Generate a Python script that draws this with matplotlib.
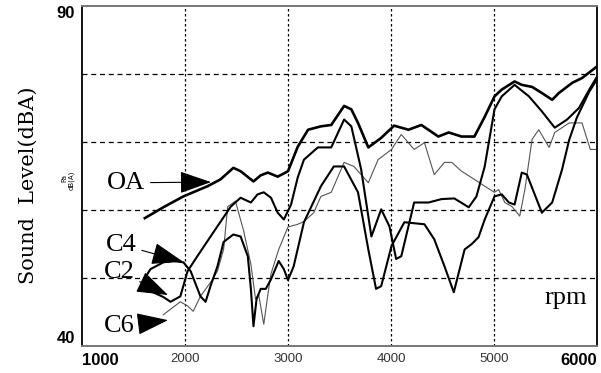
import matplotlib
matplotlib.use("Agg")
from matplotlib import pyplot as plt

# engine speed sweep, overall level and order components
oa_rpm = [1610, 1790, 1985, 2220, 2345, 2470, 2540, 2665, 2735, 2805, 2900, 3000, 3095, 3195, 3320,
          3420, 3545, 3615, 3680, 3780, 3905, 4030, 4170, 4295, 4460, 4560, 4685, 4810, 4910, 5005,
          5075, 5200, 5270, 5370, 5465, 5565, 5630, 5760, 5855, 6000]
oa_db = [58.8, 60.4, 62.0, 63.5, 64.5, 66.2, 65.7, 64.2, 65.1, 65.5, 64.9, 65.7, 69.3, 71.8, 72.3,
         72.5, 75.3, 74.8, 72.8, 69.2, 70.6, 72.4, 71.8, 72.5, 70.8, 71.4, 70.8, 70.8, 73.7, 76.7,
         77.7, 78.9, 78.4, 78.1, 77.2, 76.2, 77.2, 78.7, 79.4, 81.1]

c2_rpm = [1595, 1690, 1790, 1860, 1955, 2025, 2120, 2275, 2445, 2540, 2640, 2705, 2765, 2835, 2900,
          2960, 3030, 3095, 3155, 3290, 3420, 3545, 3615, 3710, 3810, 3905, 3985, 4050, 4100, 4225,
          4365, 4490, 4615, 4755, 4830, 4910, 5005, 5075, 5200, 5340, 5465, 5590, 5710, 5825, 5925, 6000]
c2_db = [48.8, 47.9, 47.2, 46.5, 47.3, 51.0, 53.2, 56.7, 60.5, 61.8, 61.1, 62.3, 62.6, 61.8, 59.6,
         58.6, 60.8, 64.8, 67.4, 69.2, 69.2, 73.3, 72.3, 66.0, 56.1, 60.1, 57.6, 52.8, 53.2, 61.1,
         61.1, 61.6, 61.7, 60.4, 62.0, 66.4, 74.8, 76.7, 78.4, 76.7, 74.5, 72.1, 73.3, 75.0, 77.7, 79.6]

c4_rpm = [1615, 1665, 1790, 1885, 1985, 2055, 2150, 2200, 2250, 2315, 2375, 2470, 2540, 2610, 2640,
          2665, 2695, 2735, 2785, 2835, 2910, 2960, 3000, 3055, 3155, 3320, 3445, 3545, 3680, 3780,
          3855, 3905, 4005, 4130, 4325, 4420, 4520, 4610, 4715, 4785, 4850, 4910, 5005, 5075, 5145,
          5200, 5270, 5320, 5465, 5565, 5660, 5730, 5805, 5925, 6000]
c4_db = [50.1, 51.3, 52.3, 52.5, 52.3, 51.0, 47.3, 46.5, 48.9, 51.7, 55.3, 56.4, 56.1, 53.2, 48.4,
         42.9, 46.9, 48.4, 48.4, 49.8, 52.5, 51.3, 49.7, 51.7, 58.2, 63.5, 66.4, 66.4, 62.6, 54.2,
         48.4, 48.8, 54.7, 58.2, 57.9, 55.7, 51.7, 47.9, 54.2, 55.0, 56.0, 58.6, 62.0, 62.3, 61.1,
         60.8, 65.5, 65.2, 59.6, 61.1, 65.9, 70.3, 73.6, 77.4, 79.2]

c6_rpm = [1790, 1885, 1955, 2025, 2080, 2150, 2250, 2315, 2375, 2415, 2490, 2570, 2640, 2685, 2715,
          2765, 2805, 2835, 2910, 3000, 3095, 3155, 3250, 3320, 3420, 3545, 3640, 3780, 3875, 4005,
          4100, 4225, 4325, 4420, 4520, 4590, 4685, 4810, 4910, 5005, 5045, 5105, 5175, 5250, 5300,
          5370, 5435, 5535, 5590, 5730, 5855, 5935, 6000]
c6_db = [44.6, 45.7, 46.5, 45.9, 45.1, 47.3, 49.4, 51.0, 54.2, 60.5, 61.3, 56.9, 52.0, 46.9, 47.6,
         43.2, 47.6, 50.6, 54.2, 57.5, 57.9, 58.3, 59.6, 62.0, 62.6, 67.0, 66.4, 64.0, 67.4, 68.9,
         71.1, 68.9, 69.9, 65.2, 67.0, 67.0, 65.7, 64.5, 63.5, 62.6, 63.0, 61.1, 60.5, 59.1, 63.0,
         70.4, 71.8, 69.2, 71.4, 72.8, 72.8, 68.9, 68.9]

x_ticks = [1000, 2000, 3000, 4000, 5000, 6000]
y_ticks = [40, 50, 60, 70, 80, 90]

fig = plt.figure(figsize=(6.01, 3.73), dpi=100)
ax = fig.add_axes([0.1364, 0.0724, 0.8569, 0.9116])

ax.plot(c6_rpm, c6_db, color="#555555", lw=0.8)
ax.plot(c4_rpm, c4_db, color="black", lw=1.5)
ax.plot(c2_rpm, c2_db, color="black", lw=1.5)
ax.plot(oa_rpm, oa_db, color="black", lw=1.9)

ax.set_xlim(1000, 6000)
ax.set_ylim(40, 90)

# dashed grid, no tick marks
for v in x_ticks[1:-1]:
    ax.axvline(v, color="black", lw=0.9, ls=(0, (2, 2)), zorder=0)
for h in y_ticks[1:-1]:
    ax.axhline(h, color="black", lw=0.9, ls=(0, (4, 3)), zorder=0)

ax.set_xticks(x_ticks)
ax.set_yticks([40, 90])
ax.tick_params(length=0, pad=5)
ax.set_xticklabels([str(v) for v in x_ticks], fontsize=9.5, color="#333333",
                   family="Liberation Sans")
ax.set_yticklabels(["40", "90"], fontsize=12, fontweight="bold", family="Liberation Sans")
xl = ax.get_xticklabels()
for lab, ha in ((xl[0], "left"), (xl[-1], "right")):
    lab.set_fontsize(12)
    lab.set_fontweight("bold")
    lab.set_color("black")
    lab.set_ha(ha)
yl = ax.get_yticklabels()
yl[0].set_va("bottom")
yl[1].set_va("top")

for side in ("left", "right"):
    ax.spines[side].set_color("black")
    ax.spines[side].set_linewidth(1.3)
for side in ("top", "bottom"):
    ax.spines[side].set_color("#777777")
    ax.spines[side].set_linewidth(1.4)

fig.text(28 / 601, 1 - 185 / 373, "Sound  Level(dBA)", rotation=90, ha="center", va="center",
         fontsize=15, family="DejaVu Serif")
fig.text(64 / 601, 1 - 178 / 373, "Pa", rotation=90, ha="center", va="center", fontsize=5)
fig.text(71 / 601, 1 - 180 / 373, "dB(A)", rotation=90, ha="center", va="center", fontsize=5)

arrow = dict(arrowstyle="-|>,head_length=1.0,head_width=0.35", mutation_scale=20,
             color="black", lw=0.8, shrinkA=2, shrinkB=0)
label_font = dict(fontsize=19, family="Liberation Serif", ha="center", va="center")
ax.annotate("OA", xy=(2253, 64.1), xytext=(1427, 64.0), arrowprops=arrow, **label_font)
ax.annotate("C4", xy=(1981, 52.4), xytext=(1379, 54.9), arrowprops=arrow, **label_font)
ax.annotate("C2", xy=(1835, 47.5), xytext=(1359, 50.9), arrowprops=arrow, **label_font)
ax.annotate("C6", xy=(1835, 43.8), xytext=(1359, 42.9), arrowprops=arrow, **label_font)
ax.text(5700, 47.0, "rpm", **label_font)

fig.savefig("out.png", dpi=100)
